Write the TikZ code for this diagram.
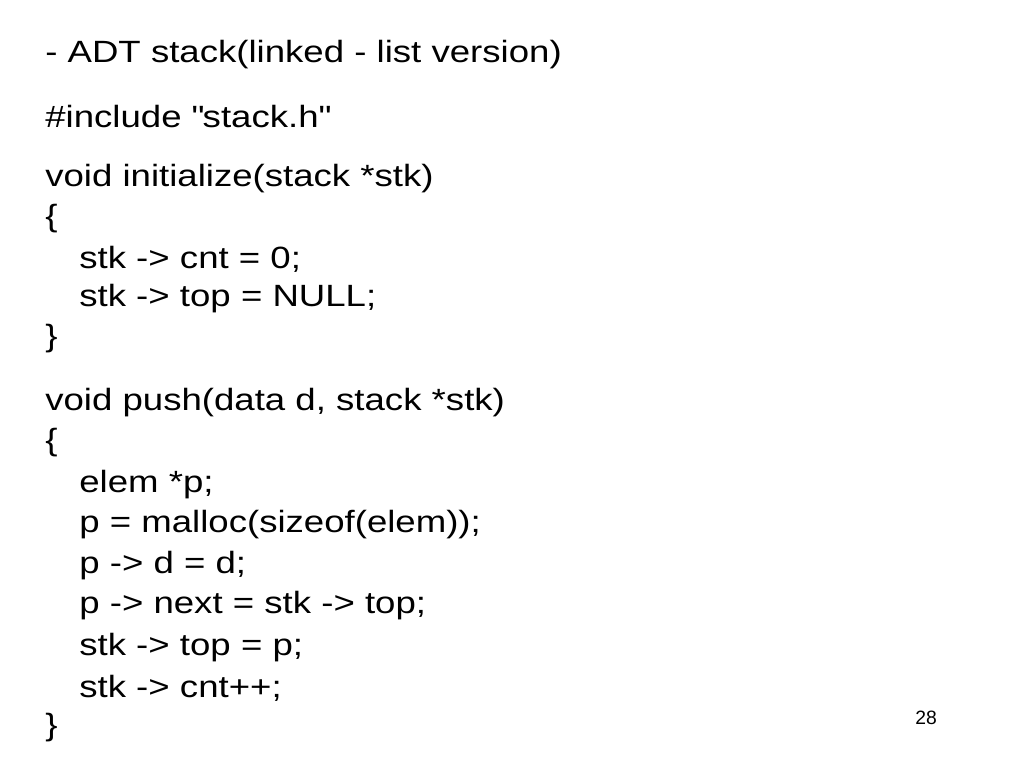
\documentclass[tikz,border=0pt]{standalone}
\usepackage{fontspec}
\setmainfont[FakeStretch=1.19]{Liberation Sans}
\newfontfamily\numfont{Liberation Sans}
\begin{document}
\begin{tikzpicture}[x=0.02cm,y=-0.02cm,
    codeline/.style={anchor=west,inner sep=0pt,font=\fontsize{17.5}{20}\selectfont},
    pagenum/.style={anchor=center,inner sep=0pt,font=\numfont\fontsize{11}{13}\selectfont}]
    \useasboundingbox[fill=white] (0,0) rectangle (1024,768); % slide area

    \node[codeline] (title) at (45,55) {- ADT stack(linked - list version)};
    \node[codeline] (incl) at (45,117) {\#include \textquotedbl stack.h\textquotedbl};

    % initialize
    \node[codeline] (inithead) at (45,179) {void initialize(stack *stk)};
    \node[codeline] (initopen) at (45,219) {\{};
    \node[codeline] (initcnt) at (79,259) {stk -> cnt = 0;};
    \node[codeline] (inittop) at (79,299) {stk -> top = NULL;};
    \node[codeline] (initclose) at (45,339) {\}};

    % push
    \node[codeline] (pushhead) at (45,403) {void push(data d, stack *stk)};
    \node[codeline] (pushopen) at (45,443) {\{};
    \node[codeline] (pushelem) at (79,485) {elem *p;};
    \node[codeline] (pushmalloc) at (79,525) {p = malloc(sizeof(elem));};
    \node[codeline] (pushd) at (79,566) {p -> d = d;};
    \node[codeline] (pushnext) at (79,606) {p -> next = stk -> top;};
    \node[codeline] (pushtop) at (79,648) {stk -> top = p;};
    \node[codeline] (pushcnt) at (79,688) {stk -> cnt++;};
    \node[codeline] (pushclose) at (45,728) {\}};

    \node[pagenum] (page) at (926,718) {28};
\end{tikzpicture}
\end{document}
